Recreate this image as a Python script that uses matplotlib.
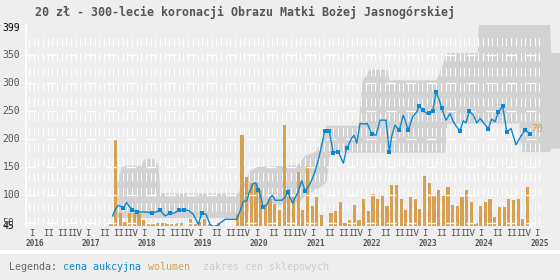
import numpy as np
import matplotlib.pyplot as plt
from matplotlib.lines import Line2D
from matplotlib.patches import Rectangle
from matplotlib import transforms

# auction price (decimal year, zl)
price_t = [2017.490, 2017.531, 2017.590, 2017.633, 2017.679, 2017.739, 2017.768, 2017.839,
           2017.928, 2018.006, 2018.095, 2018.184, 2018.261, 2018.332, 2018.421, 2018.510,
           2018.581, 2018.670, 2018.759, 2018.836, 2018.925, 2019.014, 2019.075, 2019.151,
           2019.222, 2019.285, 2019.347, 2019.400, 2019.489, 2019.578, 2019.698, 2019.756,
           2019.815, 2019.876, 2019.934, 2019.993, 2020.036, 2020.082, 2020.130, 2020.171,
           2020.232, 2020.291, 2020.332, 2020.380, 2020.438, 2020.499, 2020.558, 2020.606,
           2020.647, 2020.695, 2020.736, 2020.794, 2020.855, 2020.914, 2020.973, 2021.033,
           2021.092, 2021.151, 2021.199, 2021.266, 2021.344, 2021.418, 2021.507, 2021.596,
           2021.656, 2021.745, 2021.786, 2021.834, 2021.893, 2021.982, 2022.023, 2022.101,
           2022.178, 2022.249, 2022.303, 2022.356, 2022.414, 2022.457, 2022.516, 2022.593,
           2022.664, 2022.724, 2022.753, 2022.831, 2022.902, 2022.948, 2023.009, 2023.080,
           2023.127, 2023.187, 2023.246, 2023.305, 2023.347, 2023.424, 2023.495, 2023.554,
           2023.614, 2023.673, 2023.732, 2023.780, 2023.839, 2023.910, 2023.971, 2024.030,
           2024.101, 2024.177, 2024.238, 2024.297, 2024.355, 2024.433, 2024.505, 2024.581,
           2024.670, 2024.754, 2024.830, 2024.919]
price_v = [63, 74, 82, 80, 77, 87, 82, 74, 70, 70, 70, 68, 70, 73, 63, 68,
           68, 73, 73, 73, 66, 48, 68, 66, 48, 44, 46, 50, 57, 57, 57, 71,
           89, 90, 109, 121, 122, 110, 95, 79, 83, 95, 100, 91, 91, 91, 96, 106,
           96, 86, 95, 107, 126, 108, 115, 127, 142, 163, 184, 215, 215, 176, 178, 157,
           184, 202, 207, 193, 228, 227, 228, 210, 207, 234, 234, 234, 178, 205, 225, 216,
           243, 225, 216, 240, 249, 259, 252, 246, 246, 250, 284, 270, 255, 234, 246, 231,
           222, 215, 233, 229, 250, 243, 229, 237, 228, 219, 236, 231, 248, 259, 213, 219,
           190, 205, 216, 210]
# 1 = point drawn with a square marker
price_mark = [0, 0, 0, 0, 1, 0, 0, 1, 1, 0, 0, 1, 0, 1, 0, 1,
              0, 1, 1, 0, 0, 0, 1, 0, 0, 0, 0, 0, 0, 0, 0, 0,
              0, 0, 0, 0, 0, 1, 0, 1, 0, 0, 0, 0, 0, 0, 0, 1,
              0, 0, 0, 0, 0, 1, 0, 0, 0, 0, 0, 1, 1, 1, 1, 0,
              1, 0, 0, 0, 0, 0, 0, 1, 0, 0, 0, 0, 1, 0, 0, 1,
              0, 0, 1, 0, 0, 1, 1, 0, 1, 1, 1, 0, 1, 0, 0, 0,
              0, 1, 0, 0, 1, 0, 0, 0, 0, 1, 0, 0, 1, 1, 1, 0,
              0, 0, 1, 1]

# monthly volume, June 2017 .. November 2024
vol_first_month = (2017, 6)
volume = [5, 154, 24, 7, 23, 23, 21, 11, 5, 5, 5, 5, 5, 5, 5, 5,
          0, 12, 5, 7, 12, 5, 0, 5, 0, 0, 0, 21, 162, 88, 77, 77,
          64, 36, 49, 40, 29, 180, 66, 51, 97, 29, 107, 36, 52, 20, 0, 23,
          26, 43, 6, 11, 37, 11, 48, 26, 57, 48, 54, 36, 73, 73, 48, 29,
          52, 48, 31, 89, 77, 54, 64, 54, 70, 37, 36, 52, 64, 43, 6, 36,
          43, 48, 16, 34, 34, 48, 46, 48, 12, 70]

# shop price range (min / max)
band_t = [2017.490, 2017.549, 2017.638, 2017.691, 2017.994, 2018.030, 2018.083, 2018.208,
          2018.261, 2018.297, 2018.332, 2019.721, 2019.828, 2019.934, 2020.040, 2020.771,
          2020.914, 2021.092, 2021.217, 2021.290, 2021.360, 2021.860, 2021.930, 2022.020,
          2022.050, 2022.360, 2022.410, 2023.250, 2023.400, 2023.440, 2023.980, 2024.000,
          2024.720, 2024.750, 2025.270, 2025.290, 2025.500]
band_lo = [62, 60, 60, 60, 60, 60, 60, 60,
           60, 60, 60, 60, 65, 75, 80, 85,
           100, 110, 118, 125, 177, 177, 177, 177,
           177, 177, 177, 177, 177, 229, 229, 229,
           229, 178, 178, 184, 184]
band_hi = [65, 120, 150, 154, 154, 163, 166, 166,
           160, 154, 104, 104, 125, 145, 151, 155,
           172, 178, 200, 225, 225, 225, 306, 318,
           325, 325, 306, 306, 345, 355, 355, 405,
           405, 405, 405, 355, 355]

title = "20 zł - 300-lecie koronacji Obrazu Matki Bożej Jasnogórskiej"
years = list(range(2016, 2026))
quarters = ["I", "II", "III", "IV"]
yticks = [45, 50, 100, 150, 200, 250, 300, 350, 399]
grid_levels = [50, 100, 150, 200, 250, 300, 350]

BG = "#eeeeee"
BAND = "#d2d2d2"
BLUE = "#0a88d0"
ORANGE = "#d6a152"
TXT = "#555555"
FONT = "DejaVu Sans Mono"

W, H = 560, 280
plt.rcParams["font.family"] = FONT

fig = plt.figure(figsize=(W / 100, H / 100), dpi=100, facecolor=BG)
rect = [25.5 / W, 54 / H, (W - 25.5) / W, 204 / H]
ax_band = fig.add_axes(rect)
ax_vol = fig.add_axes(rect, sharex=ax_band)
ax = fig.add_axes(rect, sharex=ax_band)

xlim = (2015.938, 2025.453)
for a in (ax_band, ax_vol, ax):
    a.axis("off")
ax_band.set_xlim(*xlim)
ax_band.set_ylim(45, 409.3)
ax.set_ylim(45, 409.3)
ax_vol.set_ylim(0, 364.3)

# shop price band
ax_band.fill_between(band_t, band_lo, band_hi, color=BAND, lw=0)

# monthly vertical dashes sit under the bars, between them
month_x = 2016.0 + np.arange(110) / 12
ax_band.vlines(month_x, 45, 386, colors="white", linewidth=0.75,
               linestyles=[(0, (7.9, 6.5))], zorder=2)

# volume bars, centred mid-month
y0, m0 = vol_first_month
vol_t = [y0 + (m0 - 1 + i + 0.5) / 12 for i in range(len(volume))]
ax_vol.bar(vol_t, volume, width=3.2 / 56.17, color=ORANGE, linewidth=0)

# horizontal dashed grid over the bars
ax.hlines(grid_levels, 2015.947, 2025.03, colors="white", linewidth=1.0,
          linestyles=[(0, (7.2, 7.2))], zorder=1)

# auction price line
ax.plot(price_t, price_v, color=BLUE, lw=1.0, zorder=3)
mt = [t for t, m in zip(price_t, price_mark) if m]
mv = [v for v, m in zip(price_v, price_mark) if m]
ax.plot(mt, mv, "s", ms=2.6, color=BLUE, mew=0, zorder=4)
ax.annotate(str(volume[-1]), (price_t[-1], price_v[-1]), xytext=(1, 3.6),
            textcoords="offset points", ha="left", va="center",
            color=ORANGE, fontsize=7, annotation_clip=False)

# y axis line and labels (45 and 50 sit on top of each other, as in the original)
fig.add_artist(Line2D([25.5 / W] * 2, [1 - 227 / H, 1 - 25 / H], color="white", lw=1.2))
ytr = transforms.blended_transform_factory(fig.transFigure, ax.transData)
for v in yticks:
    col = "black" if v in (45, 399) else TXT
    ax.text(2.5 / W, v, str(v), transform=ytr, ha="left", va="center",
            fontsize=7, color=col, clip_on=False)

# x labels: quarters and years
xtr = transforms.blended_transform_factory(ax.transData, fig.transFigure)
for y in years:
    for q, lab in enumerate(quarters):
        if y == years[-1] and q > 0:
            break
        ax.text(y + q * 0.25, 1 - 233 / H, lab, transform=xtr, ha="left", va="center",
                fontsize=6.6, color=TXT, clip_on=False)
    ax.text(y + 0.1, 1 - 243.5 / H, str(y), transform=xtr, ha="center", va="center",
            fontsize=5.6, fontweight="bold", color=TXT, clip_on=False)

# title
fig.text(35 / W, 1 - 12.5 / H, title, ha="left", va="center", fontsize=8.35,
         fontweight="bold", color=TXT)

# separator and legend
fig.add_artist(Rectangle((0, 1 - 253.5 / H), 1, 4 / H, color="white", lw=0,
                         transform=fig.transFigure))
cw = 6.05
parts = [("Legenda: ", "#666666"), ("cena aukcyjna ", BLUE),
         ("wolumen  ", ORANGE), ("zakres cen sklepowych", "#cccccc")]
n = 0
for s, c in parts:
    fig.text((9 + n * cw) / W, 1 - 267.5 / H, s.rstrip(), ha="left", va="center",
             fontsize=7.2, color=c)
    n += len(s)

fig.savefig("out.png", dpi=100, facecolor=BG)
